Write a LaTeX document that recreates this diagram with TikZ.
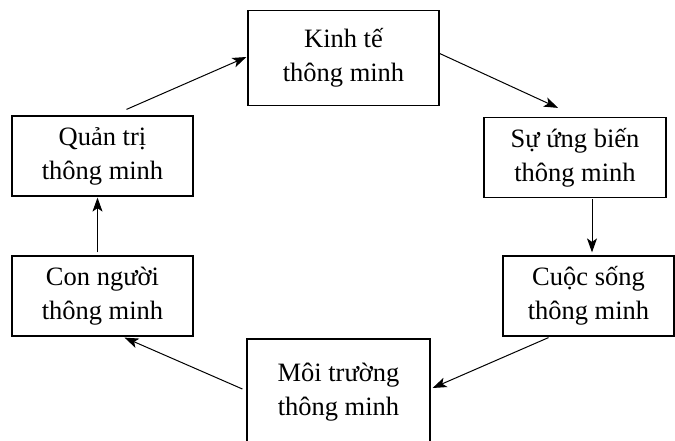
\documentclass[tikz,border=0pt]{standalone}
\usepackage{fontspec}
\setmainfont{Liberation Serif}
\usetikzlibrary{arrows.meta}
\begin{document}
\begin{tikzpicture}[x=1pt,y=-1pt,
  box/.style={draw, line width=1.2pt, rectangle, inner sep=0pt, align=center,
    font=\fontsize{26.5}{34}\selectfont},
  arr/.style={line width=1pt, -{Stealth[length=14pt,width=10pt,inset=3.5pt]}}]
  \useasboundingbox (0,0) rectangle (675,441);
  \clip (0,0) rectangle (675,441);
  % cycle of six boxes
  \node[box, minimum width=191pt, minimum height=95pt] (kt) at (343.5,58) {Kinh tế\\thông minh};
  \node[box, minimum width=182pt, minimum height=80pt] (ub) at (575,157.5) {Sự ứng biến\\thông minh};
  \node[box, minimum width=171pt, minimum height=80pt] (cs) at (588.5,296) {Cuộc sống\\thông minh};
  \node[box, minimum width=183pt, minimum height=106pt] (mt) at (338.5,392) {Môi trường\\thông minh};
  \node[box, minimum width=181pt, minimum height=80pt] (cn) at (102.5,296) {Con người\\thông minh};
  \node[box, minimum width=181pt, minimum height=80pt] (qt) at (102.5,156) {Quản trị\\thông minh};
  % connectors
  \draw[arr] ([xshift=24pt,yshift=6pt]qt.north) -- ([xshift=-1pt,yshift=1pt]kt.west);
  \draw[arr] ([xshift=-1pt,yshift=5pt]kt.east) -- ([xshift=-17pt,yshift=9pt]ub.north);
  \draw[arr] ([xshift=17pt,yshift=-1pt]ub.south) -- ([xshift=17pt,yshift=3pt]ub.south |- cs.north);
  \draw[arr] ([xshift=-40pt,yshift=-1pt]cs.south) -- ([xshift=2pt,yshift=4pt]mt.east);
  \draw[arr] ([xshift=-4pt,yshift=3pt]mt.west) -- ([xshift=22pt,yshift=-1pt]cn.south);
  \draw[arr] ([xshift=-5pt,yshift=3pt]cn.north) -- ([xshift=-5pt,yshift=-1pt]qt.south);
\end{tikzpicture}
\end{document}
